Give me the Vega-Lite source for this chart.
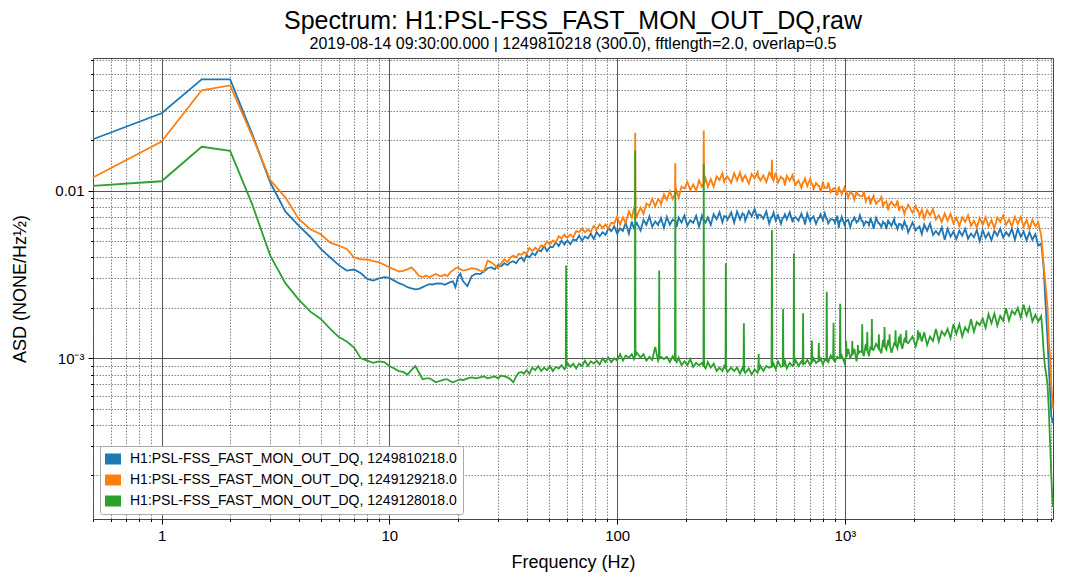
{
"$schema":"https://vega.github.io/schema/vega-lite/v6.json",
"width":960,"height":461,
"autosize":{"type":"none"},
"padding":{"left":93,"top":58,"right":13,"bottom":66},
"config":{"font":"Liberation Sans","view":{"stroke":"#444","strokeWidth":1}},
"title":{"text":"Spectrum: H1:PSL-FSS_FAST_MON_OUT_DQ,raw","subtitle":"2019-08-14 09:30:00.000 | 1249810218 (300.0), fftlength=2.0, overlap=0.5","fontSize":25,"fontWeight":"normal","subtitleFontSize":16,"anchor":"middle","offset":6,"subtitlePadding":2,"color":"#000","subtitleColor":"#000"},
"data":{"values":[
{"f":0.5,"b":0.0203,"o":0.012,"g":0.0107},
{"f":1,"b":0.029,"o":0.0197,"g":0.0114},
{"f":1.5,"b":0.0462,"o":0.0398,"g":0.0183},
{"f":2,"b":0.0462,"o":0.0425,"g":0.0173},
{"f":2.5,"b":0.0218,"o":0.0212,"g":0.0083},
{"f":3,"b":0.0112,"o":0.0116,"g":0.0041},
{"f":3.5,"b":0.0075,"o":0.0091,"g":0.0028},
{"f":4,"b":0.0062,"o":0.0068,"g":0.00224},
{"f":4.5,"b":0.0053,"o":0.0059,"g":0.0019},
{"f":5,"b":0.0045,"o":0.0055,"g":0.00172},
{"f":5.5,"b":0.004,"o":0.0049,"g":0.0015},
{"f":6,"b":0.0036,"o":0.0047,"g":0.00134},
{"f":6.5,"b":0.00334,"o":0.0045,"g":0.00126},
{"f":7,"b":0.00339,"o":0.004,"g":0.00116},
{"f":7.5,"b":0.00322,"o":0.0039,"g":0.001},
{"f":8,"b":0.00298,"o":0.00389,"g":0.00097},
{"f":8.5,"b":0.00291,"o":0.0038,"g":0.00094},
{"f":9,"b":0.003,"o":0.00374,"g":0.00096},
{"f":9.5,"b":0.00305,"o":0.00362,"g":0.00095},
{"f":10,"b":0.00302,"o":0.00349,"g":0.0009},
{"f":10.5,"b":0.00291,"o":0.0034,"g":0.00087},
{"f":11,"b":0.00281,"o":0.0033,"g":0.00084},
{"f":11.5,"b":0.00275,"o":0.00333,"g":0.00083},
{"f":12,"b":0.00266,"o":0.0034,"g":0.0008},
{"f":12.5,"b":0.00262,"o":0.00349,"g":0.00085},
{"f":13,"b":0.00258,"o":0.0033,"g":0.0009},
{"f":13.5,"b":0.0026,"o":0.0031,"g":0.00082},
{"f":14,"b":0.00266,"o":0.00306,"g":0.00075},
{"f":14.5,"b":0.00272,"o":0.00312,"g":0.00076},
{"f":15,"b":0.00277,"o":0.00305,"g":0.00076},
{"f":15.5,"b":0.00276,"o":0.00312,"g":0.00074},
{"f":16,"b":0.00279,"o":0.00319,"g":0.00072},
{"f":16.5,"b":0.0028,"o":0.00312,"g":0.00073},
{"f":17,"b":0.00279,"o":0.0031,"g":0.00074},
{"f":17.5,"b":0.00275,"o":0.00316,"g":0.00075},
{"f":18,"b":0.0028,"o":0.0031,"g":0.00075},
{"f":18.5,"b":0.00285,"o":0.00326,"g":0.00073},
{"f":19,"b":0.00288,"o":0.00335,"g":0.00072},
{"f":19.5,"b":0.00266,"o":0.00345,"g":0.00073},
{"f":20,"b":0.00305,"o":0.00349,"g":0.00074},
{"f":20.5,"b":0.0032,"o":0.0034,"g":0.00075},
{"f":21,"b":0.0029,"o":0.00334,"g":0.00074},
{"f":22,"b":0.0027,"o":0.00338,"g":0.00076},
{"f":23,"b":0.0031,"o":0.00345,"g":0.00077},
{"f":24,"b":0.0032,"o":0.00342,"g":0.00076},
{"f":25,"b":0.00318,"o":0.00334,"g":0.00077},
{"f":26,"b":0.0033,"o":0.0033,"g":0.00078},
{"f":27,"b":0.00345,"o":0.00383,"g":0.00076},
{"f":28,"b":0.0035,"o":0.00374,"g":0.00077},
{"f":29,"b":0.0034,"o":0.0036,"g":0.00078},
{"f":30,"b":0.0036,"o":0.00345,"g":0.00076},
{"f":31,"b":0.00355,"o":0.0037,"g":0.00079},
{"f":32,"b":0.0037,"o":0.0039,"g":0.00078},
{"f":33,"b":0.0036,"o":0.00375,"g":0.00077},
{"f":34,"b":0.00375,"o":0.004,"g":0.00075},
{"f":35,"b":0.0038,"o":0.0041,"g":0.00072},
{"f":36,"b":0.0037,"o":0.004,"g":0.00078},
{"f":37,"b":0.0039,"o":0.0042,"g":0.00082},
{"f":38,"b":0.004,"o":0.00415,"g":0.00083},
{"f":39,"b":0.0038,"o":0.0043,"g":0.00081},
{"f":40,"b":0.00412,"o":0.00421,"g":0.00085},
{"f":41.2,"b":0.004,"o":0.00455,"g":0.00081},
{"f":42.4,"b":0.00424,"o":0.00437,"g":0.00088},
{"f":43.7,"b":0.00413,"o":0.00457,"g":0.00085},
{"f":45,"b":0.00441,"o":0.00442,"g":0.0009},
{"f":46.4,"b":0.00436,"o":0.00472,"g":0.00084},
{"f":47.8,"b":0.00468,"o":0.00465,"g":0.00088},
{"f":49.2,"b":0.00437,"o":0.00499,"g":0.00085},
{"f":50.7,"b":0.00462,"o":0.00478,"g":0.0009},
{"f":52.2,"b":0.00461,"o":0.00505,"g":0.00084},
{"f":53.8,"b":0.00494,"o":0.00492,"g":0.00089},
{"f":55.4,"b":0.00468,"o":0.00536,"g":0.00087},
{"f":57,"b":0.00505,"o":0.00519,"g":0.00091},
{"f":58.7,"b":0.00478,"o":0.00549,"g":0.00086},
{"f":59.5,"b":0.00495,"o":0.0053,"g":0.00088},
{"f":59.7,"b":0.00495,"o":0.0053,"g":0.00358},
{"f":59.9,"b":0.00495,"o":0.0053,"g":0.0009},
{"f":60.5,"b":0.00505,"o":0.00524,"g":0.00094},
{"f":62.3,"b":0.0048,"o":0.00548,"g":0.00089},
{"f":64.2,"b":0.00513,"o":0.00528,"g":0.00093},
{"f":66.1,"b":0.00505,"o":0.00574,"g":0.00087},
{"f":68.1,"b":0.00541,"o":0.00567,"g":0.00093},
{"f":70.1,"b":0.00504,"o":0.00593,"g":0.0009},
{"f":72.2,"b":0.00533,"o":0.00566,"g":0.00097},
{"f":74.4,"b":0.00519,"o":0.00586,"g":0.0009},
{"f":76.6,"b":0.00556,"o":0.00569,"g":0.00096},
{"f":78.9,"b":0.00516,"o":0.00618,"g":0.00093},
{"f":81.3,"b":0.00567,"o":0.00588,"g":0.00097},
{"f":83.8,"b":0.00536,"o":0.00631,"g":0.00092},
{"f":86.3,"b":0.00566,"o":0.00601,"g":0.001},
{"f":88.9,"b":0.00547,"o":0.00629,"g":0.00095},
{"f":91.5,"b":0.00595,"o":0.00595,"g":0.00101},
{"f":94.3,"b":0.00574,"o":0.00646,"g":0.00095},
{"f":97.1,"b":0.00614,"o":0.00637,"g":0.001},
{"f":100,"b":0.00555,"o":0.00702,"g":0.00097},
{"f":103,"b":0.00596,"o":0.00627,"g":0.00106},
{"f":106,"b":0.00576,"o":0.00694,"g":0.00097},
{"f":109,"b":0.00647,"o":0.00642,"g":0.00104},
{"f":112.6,"b":0.00555,"o":0.00753,"g":0.00101},
{"f":116,"b":0.00657,"o":0.00691,"g":0.00106},
{"f":118.5,"b":0.00589,"o":0.00781,"g":0.00099},
{"f":119.6,"b":0.0062,"o":0.0075,"g":0.00102},
{"f":120,"b":0.0062,"o":0.0222,"g":0.0174},
{"f":120.4,"b":0.0062,"o":0.0075,"g":0.00104},
{"f":122,"b":0.00643,"o":0.00705,"g":0.00108},
{"f":126.7,"b":0.0058,"o":0.00793,"g":0.00101},
{"f":130.5,"b":0.00672,"o":0.00727,"g":0.00106},
{"f":134.4,"b":0.00627,"o":0.0084,"g":0.00097},
{"f":138.5,"b":0.00702,"o":0.00812,"g":0.00102},
{"f":142.6,"b":0.00611,"o":0.00896,"g":0.00098},
{"f":146.9,"b":0.00657,"o":0.00808,"g":0.00117},
{"f":151.3,"b":0.00624,"o":0.00887,"g":0.00097},
{"f":152.5,"b":0.0065,"o":0.0088,"g":0.001},
{"f":153,"b":0.0065,"o":0.0088,"g":0.00334},
{"f":153.5,"b":0.0065,"o":0.0088,"g":0.001},
{"f":155.8,"b":0.00689,"o":0.00828,"g":0.00102},
{"f":160.5,"b":0.006,"o":0.00954,"g":0.00099},
{"f":165.3,"b":0.007,"o":0.00883,"g":0.00102},
{"f":170.3,"b":0.00627,"o":0.00995,"g":0.00095},
{"f":175.4,"b":0.00673,"o":0.00893,"g":0.00103},
{"f":179.4,"b":0.0066,"o":0.0095,"g":0.00097},
{"f":180,"b":0.0066,"o":0.0146,"g":0.01},
{"f":180.6,"b":0.0066,"o":0.0095,"g":0.00097},
{"f":182.5,"b":0.00607,"o":0.00999,"g":0.00095},
{"f":186.1,"b":0.00693,"o":0.00911,"g":0.00101},
{"f":191.7,"b":0.00647,"o":0.0106,"g":0.00091},
{"f":197.4,"b":0.00713,"o":0.0103,"g":0.00096},
{"f":203.3,"b":0.0062,"o":0.0113,"g":0.00091},
{"f":209.4,"b":0.00667,"o":0.0101,"g":0.00099},
{"f":215.7,"b":0.00643,"o":0.0109,"g":0.00089},
{"f":222.2,"b":0.0071,"o":0.01004,"g":0.00094},
{"f":228.9,"b":0.0061,"o":0.01155,"g":0.00091},
{"f":235.7,"b":0.0071,"o":0.01056,"g":0.00094},
{"f":239.2,"b":0.0067,"o":0.011,"g":0.0009},
{"f":240,"b":0.0067,"o":0.0229,"g":0.0145},
{"f":240.8,"b":0.0067,"o":0.011,"g":0.0009},
{"f":244.5,"b":0.00646,"o":0.01188,"g":0.00087},
{"f":250.1,"b":0.00694,"o":0.01053,"g":0.00095},
{"f":257.6,"b":0.00626,"o":0.01174,"g":0.00088},
{"f":265.3,"b":0.00725,"o":0.01058,"g":0.00093},
{"f":273.3,"b":0.00676,"o":0.01218,"g":0.00084},
{"f":281.5,"b":0.00745,"o":0.01158,"g":0.00088},
{"f":289.9,"b":0.00649,"o":0.01274,"g":0.00084},
{"f":295,"b":0.00707,"o":0.0113,"g":0.0009},
{"f":299,"b":0.007,"o":0.0119,"g":0.00087},
{"f":300,"b":0.007,"o":0.0119,"g":0.00369},
{"f":301,"b":0.007,"o":0.0119,"g":0.00087},
{"f":305,"b":0.00672,"o":0.01214,"g":0.00083},
{"f":316.8,"b":0.00742,"o":0.01116,"g":0.00088},
{"f":326.3,"b":0.00646,"o":0.01272,"g":0.00084},
{"f":336.1,"b":0.00753,"o":0.01152,"g":0.00088},
{"f":346.2,"b":0.00675,"o":0.01284,"g":0.00081},
{"f":355,"b":0.00734,"o":0.01128,"g":0.00088},
{"f":358.6,"b":0.0072,"o":0.012,"g":0.00084},
{"f":360,"b":0.0072,"o":0.012,"g":0.00162},
{"f":361.4,"b":0.0072,"o":0.012,"g":0.00084},
{"f":365,"b":0.00662,"o":0.01236,"g":0.00082},
{"f":378.3,"b":0.00756,"o":0.01104,"g":0.00087},
{"f":389.6,"b":0.00706,"o":0.0126,"g":0.0008},
{"f":401.3,"b":0.00778,"o":0.01188,"g":0.00086},
{"f":413.4,"b":0.00677,"o":0.01296,"g":0.00082},
{"f":416.4,"b":0.0072,"o":0.012,"g":0.00085},
{"f":418,"b":0.0072,"o":0.012,"g":0.00106},
{"f":419.6,"b":0.0072,"o":0.012,"g":0.00085},
{"f":425.8,"b":0.00717,"o":0.0115,"g":0.0009},
{"f":438.5,"b":0.00682,"o":0.01234,"g":0.00084},
{"f":451.7,"b":0.00753,"o":0.01125,"g":0.0009},
{"f":465.2,"b":0.00637,"o":0.01283,"g":0.00088},
{"f":476,"b":0.007,"o":0.0121,"g":0.00089},
{"f":478,"b":0.007,"o":0.0153,"g":0.00584},
{"f":480,"b":0.007,"o":0.0121,"g":0.00089},
{"f":486,"b":0.00742,"o":0.01152,"g":0.00093},
{"f":497,"b":0.00665,"o":0.01284,"g":0.00086},
{"f":508.4,"b":0.00714,"o":0.01119,"g":0.00096},
{"f":523.6,"b":0.00635,"o":0.01215,"g":0.00089},
{"f":533,"b":0.0069,"o":0.0118,"g":0.0009},
{"f":535,"b":0.0069,"o":0.0118,"g":0.00197},
{"f":537,"b":0.0069,"o":0.0118,"g":0.0009},
{"f":545,"b":0.00725,"o":0.01076,"g":0.00096},
{"f":555.5,"b":0.00676,"o":0.01229,"g":0.00087},
{"f":572.2,"b":0.00745,"o":0.01148,"g":0.00094},
{"f":589.3,"b":0.00649,"o":0.01242,"g":0.0009},
{"f":595,"b":0.0069,"o":0.0115,"g":0.00092},
{"f":597,"b":0.0069,"o":0.0115,"g":0.00424},
{"f":599,"b":0.0069,"o":0.0115,"g":0.00092},
{"f":607,"b":0.00697,"o":0.01083,"g":0.00098},
{"f":625.2,"b":0.00662,"o":0.01153,"g":0.0009},
{"f":644,"b":0.00731,"o":0.01042,"g":0.00096},
{"f":652.5,"b":0.0069,"o":0.0112,"g":0.00093},
{"f":655,"b":0.0069,"o":0.0112,"g":0.00186},
{"f":657.5,"b":0.0069,"o":0.0112,"g":0.00093},
{"f":668,"b":0.00628,"o":0.01187,"g":0.00093},
{"f":683.2,"b":0.00731,"o":0.01066,"g":0.00098},
{"f":703.7,"b":0.00656,"o":0.01177,"g":0.00091},
{"f":713,"b":0.0069,"o":0.011,"g":0.00095},
{"f":716,"b":0.0069,"o":0.011,"g":0.00128},
{"f":719,"b":0.0069,"o":0.011,"g":0.00095},
{"f":728,"b":0.00704,"o":0.01025,"g":0.001},
{"f":746.5,"b":0.00635,"o":0.01112,"g":0.00094},
{"f":765,"b":0.0069,"o":0.0107,"g":0.00096},
{"f":768,"b":0.0069,"o":0.0107,"g":0.00124},
{"f":771,"b":0.0069,"o":0.0107,"g":0.00096},
{"f":782,"b":0.00725,"o":0.00984,"g":0.001},
{"f":800,"b":0.00666,"o":0.01113,"g":0.00092},
{"f":815.8,"b":0.00734,"o":0.0104,"g":0.00098},
{"f":829,"b":0.0068,"o":0.0104,"g":0.00097},
{"f":832,"b":0.0068,"o":0.0104,"g":0.0025},
{"f":835,"b":0.0068,"o":0.0104,"g":0.00097},
{"f":845,"b":0.00639,"o":0.01123,"g":0.00095},
{"f":865.4,"b":0.00677,"o":0.00979,"g":0.00104},
{"f":887.5,"b":0.0067,"o":0.0103,"g":0.00099},
{"f":891,"b":0.0067,"o":0.0103,"g":0.00163},
{"f":894.5,"b":0.0067,"o":0.0103,"g":0.00099},
{"f":904,"b":0.00643,"o":0.0104,"g":0.00096},
{"f":925,"b":0.0071,"o":0.00939,"g":0.00102},
{"f":940,"b":0.00601,"o":0.0106,"g":0.001},
{"f":949,"b":0.0066,"o":0.01,"g":0.001},
{"f":953,"b":0.0066,"o":0.01,"g":0.00212},
{"f":957,"b":0.0066,"o":0.01,"g":0.001},
{"f":968,"b":0.007,"o":0.0095,"g":0.00104},
{"f":995,"b":0.00627,"o":0.01049,"g":0.00094},
{"f":1009,"b":0.0066,"o":0.0098,"g":0.00102},
{"f":1013,"b":0.0066,"o":0.0098,"g":0.00127},
{"f":1017,"b":0.0066,"o":0.0098,"g":0.00102},
{"f":1033,"b":0.00673,"o":0.00912,"g":0.00114},
{"f":1055,"b":0.00607,"o":0.00989,"g":0.00101},
{"f":1073,"b":0.0066,"o":0.0096,"g":0.00105},
{"f":1077,"b":0.0066,"o":0.0096,"g":0.00127},
{"f":1081,"b":0.0066,"o":0.0096,"g":0.00105},
{"f":1100,"b":0.00693,"o":0.00883,"g":0.00114},
{"f":1125,"b":0.00647,"o":0.00998,"g":0.00096},
{"f":1135,"b":0.0066,"o":0.0095,"g":0.00107},
{"f":1140,"b":0.0066,"o":0.0095,"g":0.0012},
{"f":1145,"b":0.0066,"o":0.0095,"g":0.00107},
{"f":1163,"b":0.00713,"o":0.00931,"g":0.0011},
{"f":1186,"b":0.0066,"o":0.0093,"g":0.00109},
{"f":1191,"b":0.0066,"o":0.0093,"g":0.0016},
{"f":1196,"b":0.0066,"o":0.0093,"g":0.00109},
{"f":1210,"b":0.0062,"o":0.00994,"g":0.00103},
{"f":1235,"b":0.00657,"o":0.00865,"g":0.00122},
{"f":1248,"b":0.0065,"o":0.009,"g":0.00111},
{"f":1253,"b":0.0065,"o":0.009,"g":0.00144},
{"f":1258,"b":0.0065,"o":0.009,"g":0.00111},
{"f":1275,"b":0.00624,"o":0.00918,"g":0.00103},
{"f":1295,"b":0.00689,"o":0.00828,"g":0.00118},
{"f":1308,"b":0.0065,"o":0.0089,"g":0.00113},
{"f":1313,"b":0.0065,"o":0.0089,"g":0.00172},
{"f":1318,"b":0.0065,"o":0.0089,"g":0.00113},
{"f":1335,"b":0.00592,"o":0.00933,"g":0.00112},
{"f":1370,"b":0.00689,"o":0.00835,"g":0.00122},
{"f":1403,"b":0.0064,"o":0.0087,"g":0.00115},
{"f":1409,"b":0.0064,"o":0.0087,"g":0.00139},
{"f":1415,"b":0.0064,"o":0.0087,"g":0.00115},
{"f":1445,"b":0.00608,"o":0.0092,"g":0.00107},
{"f":1470,"b":0.00653,"o":0.00799,"g":0.00129},
{"f":1486,"b":0.0064,"o":0.0085,"g":0.00117},
{"f":1492,"b":0.0064,"o":0.0085,"g":0.00154},
{"f":1498,"b":0.0064,"o":0.0085,"g":0.00117},
{"f":1520,"b":0.00589,"o":0.00865,"g":0.00113},
{"f":1548,"b":0.00672,"o":0.00764,"g":0.00129},
{"f":1564,"b":0.0064,"o":0.0083,"g":0.00119},
{"f":1570,"b":0.0064,"o":0.0083,"g":0.00139},
{"f":1576,"b":0.0064,"o":0.0083,"g":0.00119},
{"f":1600,"b":0.00617,"o":0.00861,"g":0.00108},
{"f":1645,"b":0.0068,"o":0.00812,"g":0.00123},
{"f":1661,"b":0.0063,"o":0.0082,"g":0.00121},
{"f":1668,"b":0.0063,"o":0.0082,"g":0.00147},
{"f":1675,"b":0.0063,"o":0.0082,"g":0.00121},
{"f":1700,"b":0.00592,"o":0.00875,"g":0.00115},
{"f":1730,"b":0.00636,"o":0.0076,"g":0.00135},
{"f":1749,"b":0.0063,"o":0.008,"g":0.00123},
{"f":1756,"b":0.0063,"o":0.008,"g":0.0014},
{"f":1763,"b":0.0063,"o":0.008,"g":0.00123},
{"f":1785,"b":0.00595,"o":0.00806,"g":0.00114},
{"f":1825,"b":0.00657,"o":0.00725,"g":0.0013},
{"f":1850,"b":0.0062,"o":0.0078,"g":0.00125},
{"f":1858,"b":0.0062,"o":0.0078,"g":0.00147},
{"f":1866,"b":0.0062,"o":0.0078,"g":0.00125},
{"f":1895,"b":0.00564,"o":0.00827,"g":0.00123},
{"f":1980,"b":0.00647,"o":0.00739,"g":0.00135},
{"f":2045,"b":0.0058,"o":0.00813,"g":0.00118},
{"f":2082,"b":0.006,"o":0.0076,"g":0.00129},
{"f":2090,"b":0.006,"o":0.0076,"g":0.00147},
{"f":2098,"b":0.006,"o":0.0076,"g":0.00129},
{"f":2125,"b":0.00612,"o":0.00705,"g":0.00143},
{"f":2175,"b":0.00552,"o":0.00773,"g":0.00126},
{"f":2228,"b":0.0063,"o":0.00681,"g":0.00143},
{"f":2295,"b":0.00578,"o":0.00767,"g":0.0012},
{"f":2364,"b":0.00637,"o":0.00713,"g":0.00135},
{"f":2435,"b":0.00545,"o":0.00778,"g":0.00127},
{"f":2508,"b":0.00576,"o":0.00675,"g":0.0015},
{"f":2583,"b":0.00547,"o":0.00714,"g":0.00126},
{"f":2661,"b":0.00604,"o":0.00651,"g":0.00145},
{"f":2741,"b":0.0051,"o":0.00731,"g":0.00137},
{"f":2823,"b":0.00594,"o":0.00662,"g":0.0015},
{"f":2907,"b":0.00532,"o":0.00728,"g":0.00132},
{"f":2995,"b":0.00571,"o":0.00639,"g":0.0016},
{"f":3084,"b":0.00515,"o":0.0069,"g":0.0014},
{"f":3177,"b":0.00578,"o":0.00616,"g":0.0016},
{"f":3272,"b":0.00539,"o":0.00693,"g":0.00135},
{"f":3370,"b":0.00594,"o":0.00653,"g":0.00153},
{"f":3471,"b":0.00517,"o":0.00713,"g":0.00144},
{"f":3576,"b":0.00556,"o":0.00618,"g":0.00171},
{"f":3683,"b":0.00528,"o":0.00663,"g":0.00144},
{"f":3793,"b":0.00583,"o":0.00605,"g":0.00165},
{"f":3907,"b":0.005,"o":0.00689,"g":0.00158},
{"f":4024,"b":0.00583,"o":0.00624,"g":0.00173},
{"f":4145,"b":0.00523,"o":0.00696,"g":0.00152},
{"f":4270,"b":0.00561,"o":0.00611,"g":0.00184},
{"f":4398,"b":0.00506,"o":0.0067,"g":0.00162},
{"f":4530,"b":0.00578,"o":0.00598,"g":0.00185},
{"f":4666,"b":0.00539,"o":0.00693,"g":0.00157},
{"f":4805,"b":0.00594,"o":0.00653,"g":0.00179},
{"f":4950,"b":0.00526,"o":0.00713,"g":0.00168},
{"f":5098,"b":0.00566,"o":0.00627,"g":0.00199},
{"f":5251,"b":0.00538,"o":0.00673,"g":0.00168},
{"f":5409,"b":0.00594,"o":0.00614,"g":0.00192},
{"f":5571,"b":0.0051,"o":0.007,"g":0.00183},
{"f":5738,"b":0.00594,"o":0.00634,"g":0.002},
{"f":5910,"b":0.00532,"o":0.00696,"g":0.00175},
{"f":6087,"b":0.00571,"o":0.00611,"g":0.00209},
{"f":6270,"b":0.00506,"o":0.0067,"g":0.0018},
{"f":6458,"b":0.00567,"o":0.00589,"g":0.00201},
{"f":6652,"b":0.0051,"o":0.00672,"g":0.00166},
{"f":6852,"b":0.00551,"o":0.00614,"g":0.00182},
{"f":7057,"b":0.0047,"o":0.00648,"g":0.00166},
{"f":7269,"b":0.00485,"o":0.00542,"g":0.00179},
{"f":7350,"b":0.0043,"o":0.0046,"g":0.0015},
{"f":7450,"b":0.0035,"o":0.0036,"g":0.0011},
{"f":7550,"b":0.0025,"o":0.003,"g":0.0009},
{"f":7650,"b":0.0018,"o":0.0025,"g":0.0008},
{"f":7750,"b":0.0013,"o":0.002,"g":0.0007},
{"f":7850,"b":0.0009,"o":0.0013,"g":0.0005},
{"f":7950,"b":0.00065,"o":0.001,"g":0.00032},
{"f":8050,"b":0.00045,"o":0.0007,"g":0.0002},
{"f":8130,"b":0.00043,"o":0.00058,"g":0.00015},
{"f":8192,"b":0.00041,"o":0.0005,"g":0.00013}
]},
"layer":[
{"mark":{"type":"line","strokeWidth":1.8},
 "encoding":{
  "x":{"field":"f","type":"quantitative","scale":{"type":"log","domain":[0.5,8192],"nice":false},
   "axis":{"orient":"bottom","values":[0.5,0.6,0.7,0.8,0.9,2,3,4,5,6,7,8,9,20,30,40,50,60,70,80,90,200,300,400,500,600,700,800,900,2000,3000,4000,5000,6000,7000,8000],"labels":false,"title":null,"domain":false,"tickSize":2.5,"tickColor":"#000","grid":true,"gridDash":[1.5,1.5],"gridColor":"#666","gridWidth":0.8}},
  "y":{"field":"b","type":"quantitative","scale":{"type":"log","domain":[0.00011,0.062],"nice":false},
   "axis":{"orient":"left","values":[0.0002,0.0003,0.0004,0.0005,0.0006,0.0007,0.0008,0.0009,0.002,0.003,0.004,0.005,0.006,0.007,0.008,0.009,0.02,0.03,0.04,0.05,0.06],"labels":false,"title":null,"domain":false,"tickSize":2.5,"tickColor":"#000","grid":true,"gridDash":[1.5,1.5],"gridColor":"#666","gridWidth":0.8}},
  "color":{"datum":"H1:PSL-FSS_FAST_MON_OUT_DQ, 1249810218.0","type":"nominal",
   "scale":{"domain":["H1:PSL-FSS_FAST_MON_OUT_DQ, 1249810218.0","H1:PSL-FSS_FAST_MON_OUT_DQ, 1249129218.0","H1:PSL-FSS_FAST_MON_OUT_DQ, 1249128018.0"],"range":["#1f77b4","#ff7f0e","#2ca02c"]},
   "legend":{"orient":"none","legendX":7,"legendY":388,"title":null,"fillColor":"#ffffff","strokeColor":"#aaaaaa","padding":6,"cornerRadius":2,"symbolType":"M-1.45,-1H1.45V1H-1.45Z","symbolSize":121,"symbolStrokeWidth":0,"symbolOpacity":1,"labelFontSize":14,"labelColor":"#000","labelLimit":0,"rowPadding":7,"labelOffset":10,
    "encode":{"symbols":{"update":{"fill":{"scale":"color","field":"value"},"strokeWidth":{"value":0}}}}}}
 }},
{"mark":{"type":"line","strokeWidth":1.8},
 "encoding":{
  "x":{"field":"f","type":"quantitative",
   "axis":{"orient":"bottom","values":[1,10,100,1000],"labelExpr":"datum.value==1?'1':datum.value==10?'10':datum.value==100?'100':'10³'","labelFontSize":15,"labelColor":"#000","labelPadding":4,"labelFlush":false,"domain":false,"tickSize":5,"tickColor":"#000","grid":true,"gridColor":"#444","gridWidth":0.9,"title":"Frequency (Hz)","titleFontSize":18,"titleFontWeight":"normal","titleColor":"#000","titlePadding":10}},
  "y":{"field":"o","type":"quantitative",
   "axis":{"orient":"left","values":[0.001,0.01],"labelExpr":"datum.value<0.005?'10⁻³':'0.01'","labelFontSize":15,"labelColor":"#000","labelPadding":4,"domain":false,"tickSize":5,"tickColor":"#000","grid":true,"gridColor":"#444","gridWidth":0.9,"title":"ASD (NONE/Hz½)","titleFontSize":18,"titleFontWeight":"normal","titleColor":"#000","titlePadding":25}},
  "color":{"datum":"H1:PSL-FSS_FAST_MON_OUT_DQ, 1249129218.0","type":"nominal"}
 }},
{"mark":{"type":"line","strokeWidth":1.8},
 "encoding":{
  "x":{"field":"f","type":"quantitative","axis":null},
  "y":{"field":"g","type":"quantitative","axis":null},
  "color":{"datum":"H1:PSL-FSS_FAST_MON_OUT_DQ, 1249128018.0","type":"nominal"}
 }}
],
"resolve":{"axis":{"x":"independent","y":"independent"}}
}
